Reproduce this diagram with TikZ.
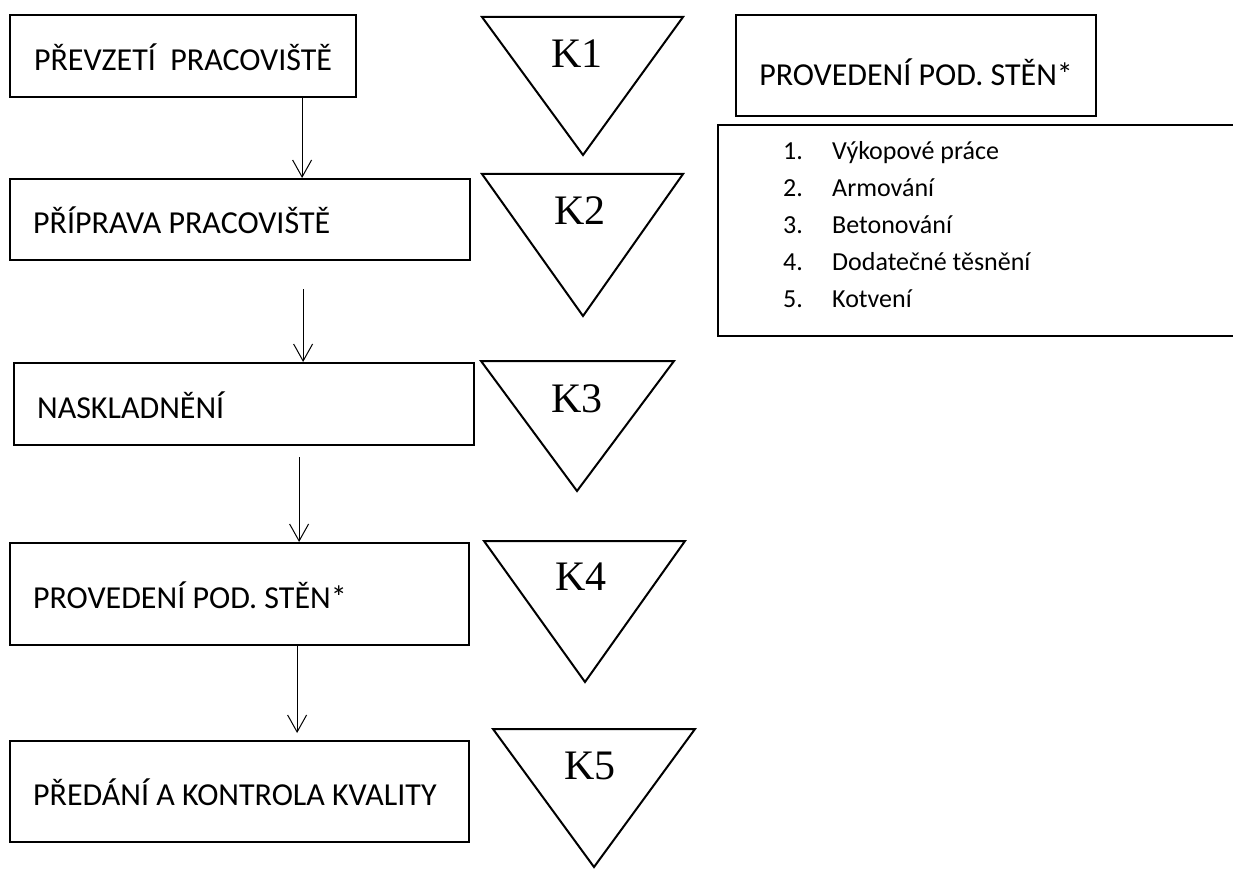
\documentclass[tikz,border=0pt]{standalone}
\usepackage{fontspec}
\setmainfont{Carlito}
\newfontfamily\kfont{Liberation Serif}
\usetikzlibrary{positioning}
\usetikzlibrary{arrows.meta}

\begin{document}
\begin{tikzpicture}[x=1pt, y=-1pt,
  stepbox/.style={draw, line width=2.2pt, rectangle, anchor=north west, inner xsep=23pt, inner ysep=0pt,
    align=flush left, font=\fontsize{32}{36}\selectfont, text height=28pt, text depth=0pt},
  ktri/.style={draw, line width=2pt, line join=miter},
  klabel/.style={font=\kfont\fontsize{42}{42}\selectfont, inner sep=0pt},
  flow/.style={line width=1pt, -{Straight Barb[length=17pt, width=19pt]}},
  listbox/.style={draw, line width=2pt, rectangle, anchor=north west, inner sep=0pt}]

\path[use as bounding box, clip] (0,0) rectangle (1233,869);

% process steps
\node[stepbox, minimum width=346pt, minimum height=82pt]
  (prevzeti) at (9,14) {PŘEVZETÍ~ PRACOVIŠTĚ};
\node[stepbox, minimum width=460pt, minimum height=81pt, text width=414pt]
  (priprava) at (9,178) {PŘÍPRAVA PRACOVIŠTĚ};
\node[stepbox, minimum width=460pt, minimum height=82pt, text width=414pt]
  (naskladneni) at (13,362) {NASKLADNĚNÍ};
\node[stepbox, minimum width=459pt, minimum height=102pt, text width=413pt]
  (provedeni) at (9,542) {PROVEDENÍ POD. STĚN*};
\node[stepbox, minimum width=459pt, minimum height=101pt, text width=413pt]
  (predani) at (9,740) {\mbox{PŘEDÁNÍ A KONTROLA KVALITY}};

% flow
\draw[flow] ([xshift=119pt]prevzeti.south) -- ([xshift=62pt]priprava.north);
\draw[flow] ([xshift=63pt,yshift=-28pt]priprava.south) -- ([xshift=59pt]naskladneni.north);
\draw[flow] ([xshift=55pt,yshift=-11pt]naskladneni.south) -- ([xshift=59.5pt]provedeni.north);
\draw[flow] ([xshift=57.5pt]provedeni.south) -- ([xshift=57.5pt,yshift=7pt]predani.north);

% control points
\draw[ktri] (482,17) -- (683,17) -- (583,155) -- cycle;
\node[klabel] (k1) at (577,54) {K1};
\draw[ktri] (482,174) -- (683,174) -- (583,316) -- cycle;
\node[klabel] (k2) at (580,211) {K2};
\draw[ktri] (481,361) -- (674,361) -- (577,491) -- cycle;
\node[klabel] (k3) at (577,399) {K3};
\draw[ktri] (484,541) -- (685,541) -- (585,682) -- cycle;
\node[klabel] (k4) at (581,577) {K4};
\draw[ktri] (493,729) -- (695,729) -- (594,867) -- cycle;
\node[klabel] (k5) at (590,766) {K5};

% detail of the wall step
\node[stepbox, minimum width=360pt, minimum height=101pt, text height=40pt]
  (detail) at (735,14) {PROVEDENÍ POD. STĚN*};
\node[listbox, minimum width=530pt, minimum height=211pt] (kroky) at (717,124) {};
\node[anchor=north west, inner sep=0pt, font=\fontsize{26}{37}\selectfont,
  below right=9pt and 66pt of kroky.north west] (polozky)
  {\begin{tabular}{@{}p{49pt}@{}l@{}}
   1. & Výkopové práce\\
   2. & Armování\\
   3. & Betonování\\
   4. & Dodatečné těsnění\\
   5. & Kotvení
   \end{tabular}};

\end{tikzpicture}
\end{document}
